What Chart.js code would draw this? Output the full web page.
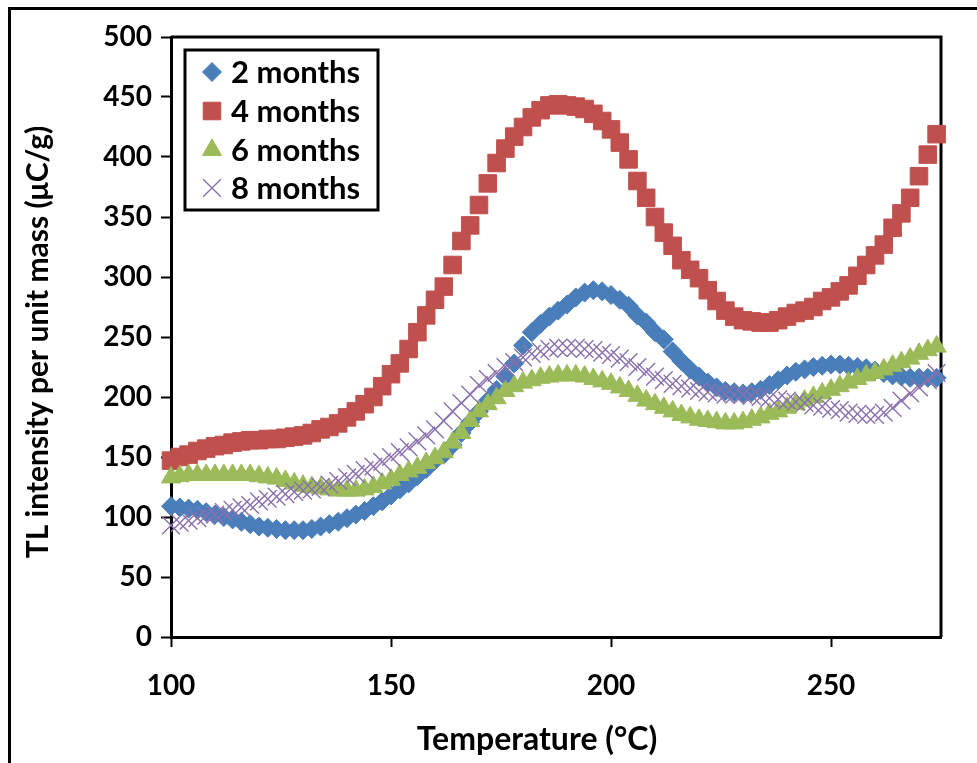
<!DOCTYPE html>
<html lang="en">
<head>
<meta charset="UTF-8">
<title>TL intensity per unit mass</title>
<style>
  html, body { margin: 0; padding: 0; background: #fff; }
  #wrap { width: 977px; height: 763px; }
</style>
</head>
<body>
<div id="wrap"><canvas id="tlChart" width="977" height="763"></canvas></div>

<script src="https://cdn.jsdelivr.net/npm/chart.js"></script>
<script>
// temperatures (°C), one reading every 2 degrees
const temperatures = [100, 102, 104, 106, 108, 110, 112, 114, 116, 118,
  120, 122, 124, 126, 128, 130, 132, 134, 136, 138,
  140, 142, 144, 146, 148, 150, 152, 154, 156, 158,
  160, 162, 164, 166, 168, 170, 172, 174, 176, 178,
  180, 182, 184, 186, 188, 190, 192, 194, 196, 198,
  200, 202, 204, 206, 208, 210, 212, 214, 216, 218,
  220, 222, 224, 226, 228, 230, 232, 234, 236, 238,
  240, 242, 244, 246, 248, 250, 252, 254, 256, 258,
  260, 262, 264, 266, 268, 270, 272, 274]

// TL intensity (µC/g) for each storage time
const months2 = [109, 108, 107, 106, 104, 102, 100, 98, 96, 94,
  92, 91, 90, 89, 89, 89, 90, 92, 94, 96,
  99, 102, 105, 109, 113, 118, 123, 128, 134, 140,
  147, 152, 160, 170, 179, 188, 197, 206, 217, 228,
  243, 254, 261, 267, 272, 277, 283, 287, 289, 288,
  285, 281, 276, 268, 262, 254, 248, 238, 230, 223,
  217, 212, 208, 205, 204, 203, 204, 206, 210, 214,
  218, 221, 223, 225, 226, 227, 227, 226, 225, 224,
  222, 220, 218, 217, 216, 216, 216, 216]

const months4 = [147, 150, 152, 155, 157, 159, 160, 162, 163, 164,
  164, 165, 165, 166, 167, 168, 170, 173, 175, 178,
  183, 188, 194, 200, 209, 219, 228, 240, 254, 268,
  281, 292, 310, 330, 343, 360, 378, 395, 407, 417,
  425, 433, 439, 443, 444, 443, 442, 440, 436, 430,
  423, 412, 398, 380, 366, 350, 337, 326, 314, 306,
  299, 289, 280, 272, 267, 264, 263, 262, 262, 264,
  267, 270, 272, 275, 280, 283, 288, 293, 301, 310,
  318, 327, 341, 353, 366, 384, 402, 419]

const months6 = [133, 134, 135, 135, 135, 135, 135, 135, 135, 135,
  134, 133, 132, 130, 128, 126, 125, 124, 123, 122,
  122, 122, 123, 125, 128, 131, 135, 138, 141, 145,
  149, 154, 162, 170, 180, 188, 194, 199, 205, 209,
  212, 214, 216, 217, 218, 218, 218, 217, 215, 213,
  211, 208, 205, 201, 197, 194, 191, 188, 185, 183,
  181, 180, 179, 178, 178, 179, 181, 183, 186, 188,
  191, 194, 197, 200, 203, 206, 209, 212, 215, 218,
  220, 223, 226, 229, 232, 236, 239, 242]

const months8 = [93, 95, 97, 99, 101, 102, 104, 106, 108, 110,
  113, 115, 117, 119, 121, 122, 123, 125, 127, 130,
  133, 136, 139, 142, 146, 150, 154, 158, 163, 168,
  173, 180, 188, 195, 202, 210, 215, 220, 225, 229,
  233, 236, 238, 240, 241, 241, 241, 240, 239, 237,
  235, 232, 229, 225, 221, 217, 214, 211, 209, 207,
  205, 204, 203, 202, 202, 202, 201, 200, 199, 198,
  197, 196, 195, 193, 192, 190, 189, 187, 186, 185,
  185, 187, 191, 197, 203, 208, 214, 220]

const seriesNames = ['2 months', '4 months', '6 months', '8 months']
const xTicks = [100, 150, 200, 250]
const yTicks = [0, 50, 100, 150, 200, 250, 300, 350, 400, 450, 500]

const FONT = 'Lato, "Open Sans", sans-serif'

const toPoints = (vals) => temperatures.map((t, i) => ({ x: t, y: vals[i] }))

// marker styles, same as the old Excel defaults
const styles = [
  { pointStyle: 'rectRot', pointRadius: 9.5, color: '#4A7EBB', width: 1 },
  { pointStyle: 'rect', pointRadius: 12.4, color: '#C0504D', width: 1 },
  { pointStyle: 'triangle', pointRadius: 11, color: '#9BBB59', width: 1 },
  { pointStyle: 'crossRot', pointRadius: 12.5, color: '#8A70AE', width: 1.4 }
]
const allSeries = [months2, months4, months6, months8]

const datasets = allSeries.map((vals, i) => ({
  label: seriesNames[i],
  data: toPoints(vals),
  showLine: false,
  pointStyle: styles[i].pointStyle,
  pointRadius: styles[i].pointRadius,
  pointHoverRadius: styles[i].pointRadius,
  pointBackgroundColor: styles[i].color,
  pointBorderColor: styles[i].color,
  pointBorderWidth: styles[i].width,
  clip: false,
  // later series sit on top
  order: allSeries.length - i
}))

// outer frame, plot box, axis titles and boxed legend
const extras = {
  id: 'extras',
  beforeDraw(chart) {
    const ctx = chart.ctx
    ctx.save()
    ctx.fillStyle = '#fff'
    ctx.fillRect(0, 0, chart.width, chart.height)
    ctx.strokeStyle = '#000'
    ctx.lineWidth = 3
    ctx.beginPath()
    ctx.moveTo(9.5, chart.height)
    ctx.lineTo(9.5, 8.5)
    ctx.lineTo(chart.width, 8.5)
    ctx.stroke()
    ctx.restore()
  },
  beforeDatasetsDraw(chart) {
    const { left, top, right, bottom } = chart.chartArea
    const ctx = chart.ctx
    ctx.save()
    ctx.strokeStyle = '#000'
    ctx.lineWidth = 3
    ctx.beginPath()
    ctx.moveTo(left, top)
    ctx.lineTo(right, top)
    ctx.lineTo(right, bottom)
    ctx.stroke()
    ctx.restore()
  },
  afterDraw(chart) {
    const ctx = chart.ctx
    ctx.save()
    ctx.fillStyle = '#000'
    ctx.textAlign = 'center'
    ctx.textBaseline = 'middle'
    ctx.font = 'bold 32px ' + FONT
    ctx.fillText('Temperature (°C)', 537, 740)
    ctx.font = 'bold 30px ' + FONT
    ctx.translate(38, 342)
    ctx.rotate(-Math.PI / 2)
    ctx.fillText('TL intensity per unit mass (μC/g)', 0, 0)
    ctx.restore()

    // legend
    ctx.save()
    ctx.fillStyle = '#fff'
    ctx.fillRect(185, 50, 193, 160)
    ctx.strokeStyle = '#000'
    ctx.lineWidth = 3
    ctx.strokeRect(185, 50, 193, 160)
    const rowsY = [72, 111, 150, 188]
    seriesNames.forEach((name, i) => {
      const s = styles[i]
      ctx.fillStyle = s.color
      ctx.strokeStyle = s.color
      ctx.lineWidth = s.width
      Chart.helpers.drawPoint(ctx, {
        pointStyle: s.pointStyle, radius: s.pointRadius, rotation: 0, borderWidth: s.width
      }, 212, rowsY[i])
      ctx.fillStyle = '#000'
      ctx.font = 'bold 31px ' + FONT
      ctx.textAlign = 'left'
      ctx.textBaseline = 'middle'
      ctx.fillText(name, 231, rowsY[i] + 1)
    })
    ctx.restore()
  }
}

const tickFont = { family: FONT, size: 28, weight: 'bold' }

new Chart(document.getElementById('tlChart'), {
  type: 'scatter',
  data: { datasets },
  options: {
    responsive: false,
    animation: false,
    devicePixelRatio: 1,
    layout: { padding: { top: 37, right: 36, bottom: 0, left: 0 } },
    plugins: {
      legend: { display: false },
      tooltip: { enabled: false }
    },
    scales: {
      x: {
        type: 'linear',
        min: 100,
        max: 275,
        z: 1,
        afterBuildTicks: (scale) => { scale.ticks = xTicks.map(v => ({ value: v })) },
        afterFit: (scale) => { scale.height = 126 },
        ticks: { color: '#000', font: tickFont, padding: 22, maxRotation: 0 },
        grid: { drawOnChartArea: false, drawTicks: true, tickLength: 10, tickColor: '#000', tickWidth: 2 },
        border: { display: true, color: '#000', width: 3 }
      },
      y: {
        min: 0,
        max: 500,
        z: 1,
        afterBuildTicks: (scale) => { scale.ticks = yTicks.map(v => ({ value: v })) },
        afterFit: (scale) => { scale.width = 171 },
        ticks: { color: '#000', font: tickFont, padding: 9 },
        grid: { drawOnChartArea: false, drawTicks: true, tickLength: 10, tickColor: '#000', tickWidth: 2 },
        border: { display: true, color: '#000', width: 3 }
      }
    }
  },
  plugins: [extras]
})
</script>
</body>
</html>
